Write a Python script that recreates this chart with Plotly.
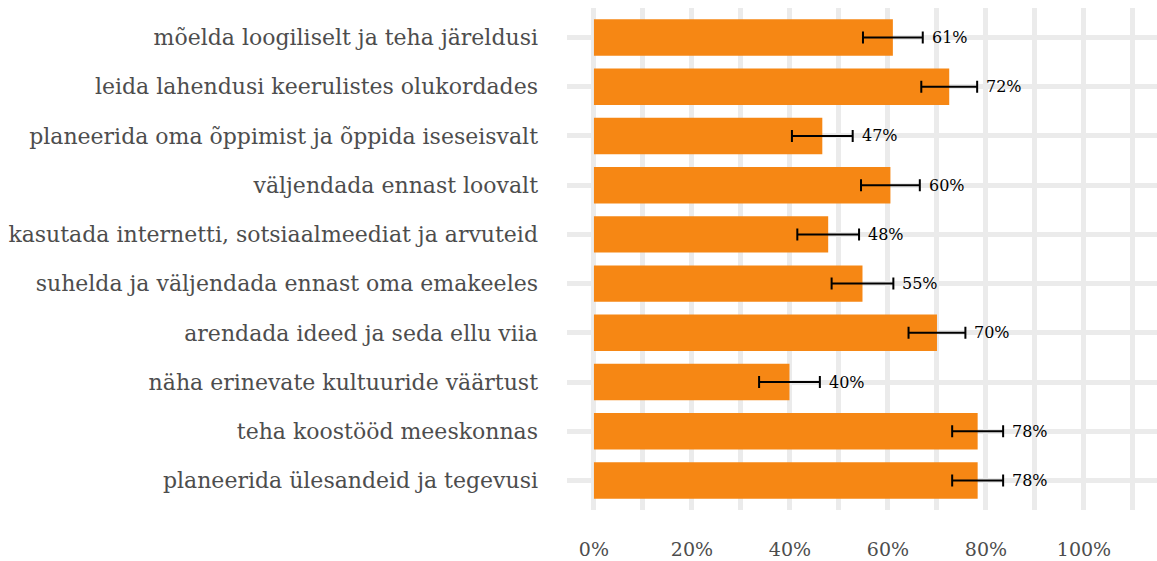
import plotly.graph_objects as go

categories = [
    "mõelda loogiliselt ja teha järeldusi",
    "leida lahendusi keerulistes olukordades",
    "planeerida oma õppimist ja õppida iseseisvalt",
    "väljendada ennast loovalt",
    "kasutada internetti, sotsiaalmeediat ja arvuteid",
    "suhelda ja väljendada ennast oma emakeeles",
    "arendada ideed ja seda ellu viia",
    "näha erinevate kultuuride väärtust",
    "teha koostööd meeskonnas",
    "planeerida ülesandeid ja tegevusi",
]
values = [0.610, 0.725, 0.466, 0.605, 0.478, 0.548, 0.700, 0.399, 0.783, 0.783]
errors = [0.061, 0.057, 0.062, 0.060, 0.063, 0.063, 0.058, 0.062, 0.052, 0.052]
value_labels = ["61%", "72%", "47%", "60%", "48%", "55%", "70%", "40%", "78%", "78%"]
tick_vals = [0, 0.2, 0.4, 0.6, 0.8, 1.0]
tick_text = ["0%", "20%", "40%", "60%", "80%", "100%"]

FONT = "DejaVu Serif"

fig = go.Figure()
fig.add_trace(go.Bar(
    x=values, y=categories, orientation="h",
    marker=dict(color="#F68714", line=dict(width=0)),
    width=0.74,
    error_x=dict(type="data", array=errors, color="black", thickness=2, width=6),
    hoverinfo="skip",
))

annotations = []
for c, v, e, t in zip(categories, values, errors, value_labels):
    annotations.append(dict(
        x=v + e, y=c, xref="x", yref="y", text=t, showarrow=False,
        xanchor="left", yanchor="middle", xshift=7,
        font=dict(family=FONT, size=16, color="black"),
    ))

fig.update_layout(
    width=1157, height=561,
    margin=dict(l=567, r=0, t=8, b=51),
    plot_bgcolor="white", paper_bgcolor="white",
    showlegend=False,
    annotations=annotations,
    xaxis=dict(
        range=[-0.055, 1.149],
        tickvals=tick_vals, ticktext=tick_text,
        showgrid=True, gridcolor="#EBEBEB", gridwidth=4.5,
        minor=dict(dtick=0.1, tick0=0.1, showgrid=True, gridcolor="#EBEBEB", gridwidth=4.5),
        zeroline=False, showline=False, ticks="",
        ticklabelstandoff=26,
        tickfont=dict(family=FONT, size=19, color="#4D4D4D"),
    ),
    yaxis=dict(
        type="category",
        categoryorder="array", categoryarray=categories,
        range=[9.6, -0.6],
        showgrid=True, gridcolor="#EBEBEB", gridwidth=4.5,
        zeroline=False, showline=False, ticks="",
        ticklabelstandoff=28,
        tickfont=dict(family=FONT, size=22, color="#4D4D4D"),
    ),
)

fig.write_html("out.html", config={"displayModeBar": False},
               post_script="document.body.style.margin='0';")
